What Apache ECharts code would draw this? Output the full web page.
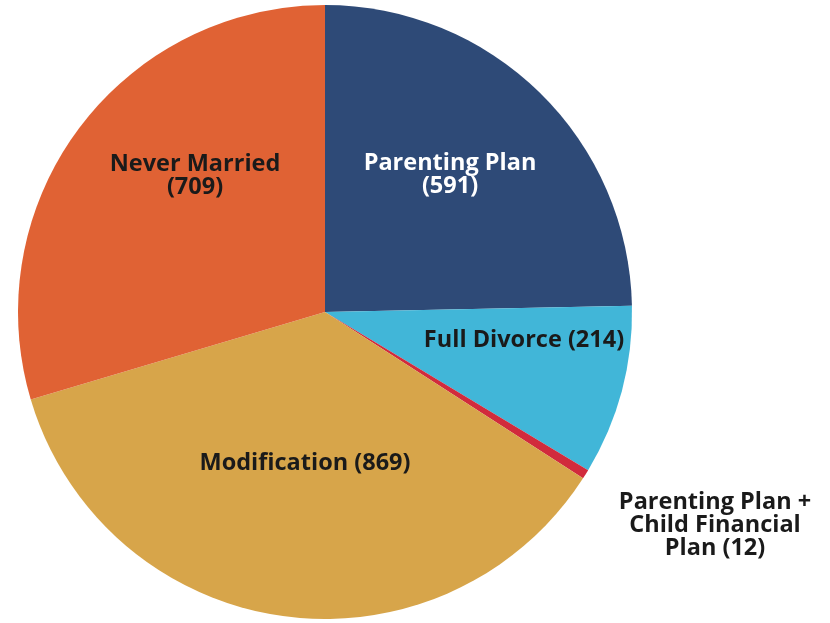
<!DOCTYPE html>
<html>
<head>
<meta charset="utf-8">
<script src="https://cdn.jsdelivr.net/npm/echarts@6/dist/echarts.min.js"></script>
<style>html,body{margin:0;padding:0;background:#fff;}#c{width:830px;height:623px;}</style>
</head>
<body>
<div id="c"></div>
<script>
var categories = ['Parenting Plan', 'Full Divorce', 'Parenting Plan + Child Financial Plan', 'Modification', 'Never Married'];
var values = [591, 214, 12, 869, 709];
var labelTexts = ['Parenting Plan\n(591)', 'Full Divorce (214)', 'Parenting Plan +\nChild Financial\nPlan (12)', 'Modification (869)', 'Never Married\n(709)'];
var colors = ['#2e4a77', '#41b6d8', '#d12b3c', '#d7a54a', '#e06234'];
var textColors = ['#ffffff', '#1a1a1a', '#1a1a1a', '#1a1a1a', '#1a1a1a'];
// label anchor positions (pixels)
var labelPos = [[450, 175], [524, 340], [715, 525], [305, 463], [195, 176]];

var chart = echarts.init(document.getElementById('c'), null, {renderer: 'canvas'});
var data = categories.map(function (n, i) {
  return {
    name: n,
    value: values[i],
    itemStyle: {color: colors[i]},
    label: {color: textColors[i]}
  };
});
chart.setOption({
  animation: false,
  backgroundColor: '#ffffff',
  series: [{
    type: 'pie',
    center: [325, 312],
    radius: 307,
    startAngle: 90,
    clockwise: true,
    avoidLabelOverlap: false,
    itemStyle: {borderWidth: 0},
    label: {
      show: true,
      position: 'inside',
      fontFamily: 'Open Sans',
      fontWeight: 'bold',
      fontSize: 23.5,
      lineHeight: 23,
      align: 'center',
      formatter: function (p) { return labelTexts[p.dataIndex]; }
    },
    labelLine: {show: false},
    labelLayout: function (p) {
      var pos = labelPos[p.dataIndex];
      return {x: pos[0], y: pos[1], align: 'center', verticalAlign: 'middle'};
    },
    emphasis: {disabled: true},
    data: data
  }]
});
</script>
</body>
</html>
